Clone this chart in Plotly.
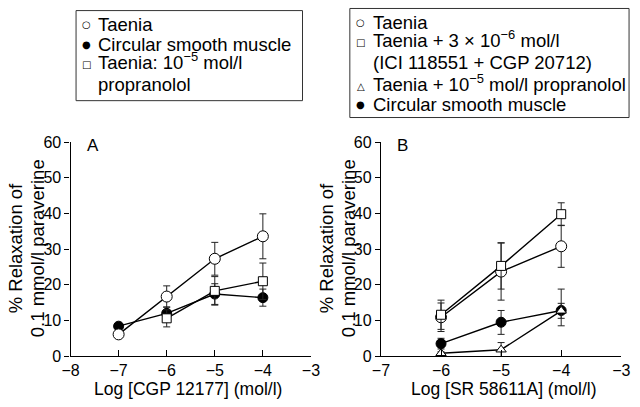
import plotly.graph_objects as go

W, H = 640, 407
FONT = "Liberation Sans, Arial, Helvetica, sans-serif"

# ---------------- data ----------------
a_x = [-7, -6, -5, -4]
a_taenia = [6.1, 16.7, 27.3, 33.6]
a_taenia_err = [0.0, 3.0, 4.6, 6.3]
a_circular = [8.4, 12.0, 17.4, 16.4]
a_circular_err = [0.0, 1.8, 2.9, 2.4]
a_prop_x = [-6, -5, -4]
a_prop = [10.6, 18.3, 21.0]
a_prop_err = [2.4, 4.0, 5.1]

b_x = [-6, -5, -4]
b_taenia = [10.9, 23.7, 30.8]
b_taenia_err = [4.0, 8.0, 5.9]
b_ici = [11.6, 25.3, 39.8]
b_ici_err = [4.1, 6.5, 3.2]
b_prop = [0.8, 1.8, 12.7]
b_prop_err = [0.4, 2.0, 2.1]
b_circular = [3.5, 9.5, 12.8]
b_circular_err_up = [1.5, 3.3, 6.0]
b_circular_err_dn = [1.5, 3.4, 4.3]

a_ticks = [-8, -7, -6, -5, -4, -3]
b_ticks = [-7, -6, -5, -4, -3]
y_ticks = [0, 10, 20, 30, 40, 50, 60]

a_xtitle = "Log [CGP 12177] (mol/l)"
b_xtitle = "Log [SR 58611A] (mol/l)"
ytitle1 = "% Relaxation of"
ytitle2 = "0.1 mmol/l paraverine"

legend_a = [("○", "Taenia"), ("●", "Circular smooth muscle"),
            ("□", "Taenia: 10<sup>−5</sup> mol/l"), ("", "propranolol")]
legend_b = [("○", "Taenia"), ("□", "Taenia + 3 × 10<sup>−6</sup> mol/l"),
            ("", "(ICI 118551 + CGP 20712)"),
            ("△", "Taenia + 10<sup>−5</sup> mol/l propranolol"),
            ("●", "Circular smooth muscle")]


def px(x):
    return x / W


def py(y):
    return 1 - y / H


fig = go.Figure()


def add(x, y, err, symbol, fill, size, xa, ya, errminus=None):
    ey = dict(type="data", array=err, color="#222", thickness=1, width=3.5)
    if errminus is not None:
        ey["symmetric"] = False
        ey["arrayminus"] = errminus
    fig.add_trace(go.Scatter(
        x=x, y=y, mode="lines+markers", xaxis=xa, yaxis=ya,
        line=dict(color="black", width=1.4),
        marker=dict(symbol=symbol, size=size, color=fill,
                    line=dict(color="black", width=1)),
        error_y=ey, showlegend=False, cliponaxis=False))


add(a_x, a_circular, a_circular_err, "circle", "black", 10, "x", "y")
add(a_prop_x, a_prop, a_prop_err, "square", "white", 9, "x", "y")
add(a_x, a_taenia, a_taenia_err, "circle", "white", 11, "x", "y")

add(b_x, b_circular, b_circular_err_up, "circle", "black", 10, "x2", "y2",
    errminus=b_circular_err_dn)
add(b_x, b_prop, b_prop_err, "triangle-up", "white", 9, "x2", "y2")
add(b_x, b_taenia, b_taenia_err, "circle", "white", 11, "x2", "y2")
add(b_x, b_ici, b_ici_err, "square", "white", 9, "x2", "y2")

ydom = [py(363.3), py(140)]
axis_common = dict(showline=True, linecolor="black", linewidth=1.2,
                   showgrid=False, zeroline=False, ticks="inside",
                   ticklen=6, tickcolor="black", tickwidth=1,
                   tickfont=dict(size=16, color="black", family=FONT))
yaxis_common = dict(showline=True, linecolor="black", linewidth=1.2,
                    showgrid=False, zeroline=False, ticks="outside",
                    ticklen=5, tickcolor="black", tickwidth=1,
                    range=[0, 60], tickvals=y_ticks,
                    tickfont=dict(size=16, color="black", family=FONT))

fig.update_layout(
    width=W, height=H, margin=dict(l=0, r=0, t=0, b=0),
    paper_bgcolor="white", plot_bgcolor="white",
    font=dict(family=FONT, color="black"),
    xaxis=dict(domain=[px(63.3), px(310.7)], range=[-8, -3],
               tickvals=a_ticks, anchor="y", **axis_common),
    yaxis=dict(domain=ydom, anchor="x", **yaxis_common),
    xaxis2=dict(domain=[px(382.7), px(630)], range=[-7, -3],
                tickvals=b_ticks, anchor="y2", **axis_common),
    yaxis2=dict(domain=ydom, anchor="x2", **yaxis_common),
)

ann = []


def text(t, x, y, size, xanchor="center", angle=0, family=FONT):
    ann.append(dict(text=t, x=px(x), y=py(y), xref="paper", yref="paper",
                    xanchor=xanchor, yanchor="middle", showarrow=False,
                    textangle=angle, font=dict(size=size, family=family)))


# panel letters
text("A", 86, 143, 17)
text("B", 405, 143, 17)
# x titles
text(a_xtitle, 184, 398, 17.5)
text(b_xtitle, 509, 398, 17.5)
# y titles
for off in (0, 320):
    text(ytitle1, 7 + off, 251, 18.5, angle=-90)
    text(ytitle2, 29.5 + off, 251, 18.5, angle=-90)


def legend(items, ys, mx, tx):
    for (glyph, label), yy in zip(items, ys):
        if glyph:
            text(glyph, mx, yy, 10, family="DejaVu Sans")
        ty = yy - 3 if "<sup>" in label else yy
        text(label, tx, ty, 18.5, xanchor="left")


legend(legend_a, [16.7, 37.7, 58.5, 80], 80, 90)
legend(legend_b, [15, 35.5, 57, 81.7, 100.5], 361.7, 372)

fig.update_layout(annotations=ann, shapes=[
    dict(type="rect", xref="paper", yref="paper", x0=px(69), x1=px(302),
         y0=py(96.7), y1=py(2.7), line=dict(color="#333", width=1)),
    dict(type="rect", xref="paper", yref="paper", x0=px(350.7), x1=px(638),
         y0=py(114.3), y1=py(0.5), line=dict(color="#333", width=1)),
])

fig.write_html("out.html", config={"displayModeBar": False},
               post_script="document.body.style.margin='0';"
                           "document.body.style.overflow='hidden';")
